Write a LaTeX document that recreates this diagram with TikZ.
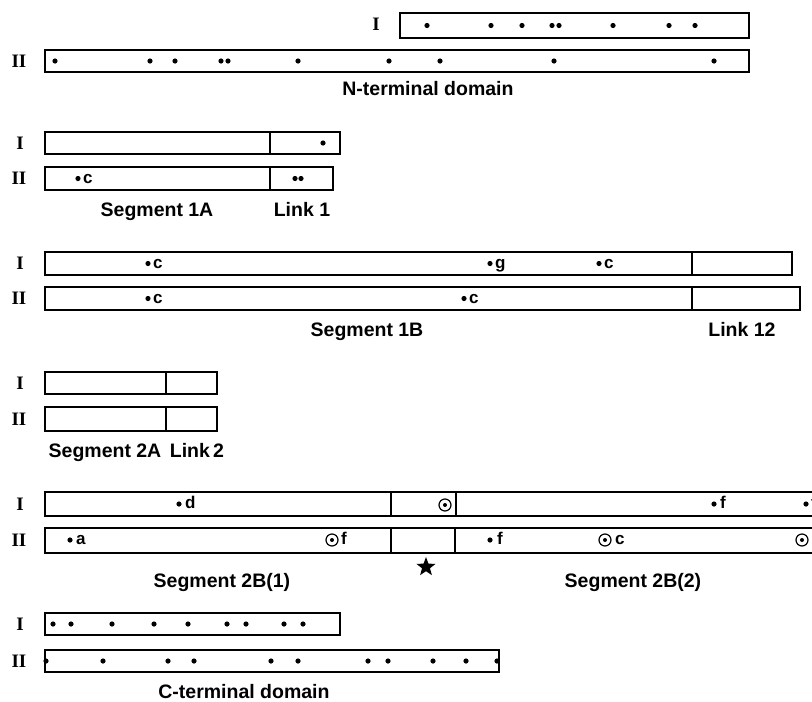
\documentclass[tikz,border=0pt]{standalone}
\usepackage{fontspec}
\setmainfont{Liberation Serif}
\newfontfamily\labf{Liberation Sans}
\usetikzlibrary{shapes.geometric}
\begin{document}
\begin{tikzpicture}[x=1pt,y=-1pt,
  bar/.style={draw, line width=1.6pt},
  divl/.style={line width=1.3pt},
  rn/.style={font=\bfseries\fontsize{19}{19}\selectfont, inner sep=0},
  captxt/.style={font=\labf\bfseries\fontsize{19.5}{19.5}\selectfont, inner sep=0, anchor=base},
  lt/.style={font=\labf\bfseries\fontsize{17}{17}\selectfont, inner sep=0, anchor=base west},
  odot/.style={draw, circle, line width=1.2pt, minimum size=12pt, inner sep=0}]
\useasboundingbox (0,0) rectangle (812,702);
\clip (0,0) rectangle (812,702);
\newcommand\mydot[2]{\fill (#1,#2) circle (2.6);}
\newcommand\mycirc[3]{\node[odot] (#3) at (#1,#2) {}; \fill (#1,#2) circle (2);}

% ---------- Row 1: N-terminal domain
\draw[bar] (400,13) rectangle (749,38);
\draw[bar] (45,50) rectangle (749,72);
\node[rn] (r1a) at (376,24) {I};
\node[rn] (r1b) at (19,61) {II};
\foreach \x in {427,491,522,552,559,613,669,695} \mydot{\x}{25.5};
\foreach \x in {55,150,175,221,228,298,389,440,554,714} \mydot{\x}{61};
\node[captxt] (nterm) at (428,95) {N-terminal domain};

% ---------- Row 2: Segment 1A / Link 1
\draw[bar] (45,132) rectangle (340,154);
\draw[divl] (270,132) -- (270,154);
\draw[bar] (45,167) rectangle (333,190);
\draw[divl] (270,167) -- (270,190);
\node[rn] (r2a) at (20,143) {I};
\node[rn] (r2b) at (19,178.5) {II};
\mydot{323}{143}
\mydot{78}{178.5} \node[lt] (c2a) at (83,183) {c};
\mydot{295}{178.5} \mydot{301}{178.5}
\node[captxt] (seg1a) at (157,216) {Segment 1A};
\node[captxt] (link1) at (302,216) {Link 1};

% ---------- Row 3: Segment 1B / Link 12
\draw[bar] (45,252) rectangle (792,275);
\draw[divl] (692,252) -- (692,275);
\draw[bar] (45,287) rectangle (800,310);
\draw[divl] (692,287) -- (692,310);
\node[rn] (r3a) at (20,263.5) {I};
\node[rn] (r3b) at (19,298.5) {II};
\mydot{148}{263.5} \node[lt] (c3a) at (153,268) {c};
\mydot{490}{263.5} \node[lt] (g3a) at (495,268) {g};
\mydot{599}{263.5} \node[lt] (c3b) at (604,268) {c};
\mydot{148}{298.5} \node[lt] (c3c) at (153,303) {c};
\mydot{464}{298.5} \node[lt] (c3d) at (469,303) {c};
\node[captxt] (seg1b) at (367,336) {Segment 1B};
\node[captxt] (link12) at (742,336) {Link 12};

% ---------- Row 4: Segment 2A / Link 2
\draw[bar] (45,372) rectangle (217,394);
\draw[divl] (166,372) -- (166,394);
\draw[bar] (45,407) rectangle (217,431);
\draw[divl] (166,407) -- (166,431);
\node[rn] (r4a) at (20,383) {I};
\node[rn] (r4b) at (19,419) {II};
\node[captxt] (seg2a) at (105,457) {Segment 2A};
\node[captxt] (link2) at (197,457) {Link\,2};

% ---------- Row 5: Segment 2B(1) / star / Segment 2B(2)
\draw[bar] (45,492) rectangle (830,516);
\draw[divl] (391,492) -- (391,516);
\draw[divl] (456,492) -- (456,516);
\draw[bar] (45,528) rectangle (830,553);
\draw[divl] (391,528) -- (391,553);
\draw[divl] (455,528) -- (455,553);
\node[rn] (r5a) at (20,504) {I};
\node[rn] (r5b) at (19,540) {II};
\mydot{179}{504} \node[lt] (d5a) at (185,508.5) {d};
\mycirc{445}{505}{o5a}
\mydot{714}{504} \node[lt] (f5a) at (720,508.5) {f};
\mydot{806}{504} \node[lt] (f5b) at (811,508.5) {f};
\mydot{70}{540} \node[lt] (a5a) at (76,544.5) {a};
\mycirc{332}{540}{o5b} \node[lt] (f5c) at (341,544.5) {f};
\mydot{490}{540} \node[lt] (f5d) at (497,544.5) {f};
\mycirc{605}{540}{o5c} \node[lt] (c5a) at (615,544.5) {c};
\mycirc{802}{540}{o5d}
\node[star, star points=5, star point ratio=2.4, fill=black, inner sep=0, minimum size=20pt] (star) at (426,567) {};
\node[captxt] (seg2b1) at (222,587) {Segment 2B(1)};
\node[captxt] (seg2b2) at (633,587) {Segment 2B(2)};

% ---------- Row 6: C-terminal domain
\draw[bar] (45,613) rectangle (340,635);
\draw[bar] (45,650) rectangle (499,672);
\node[rn] (r6a) at (20,624) {I};
\node[rn] (r6b) at (19,661) {II};
\foreach \x in {53,71,112,154,188,227,246,284,303} \mydot{\x}{624};
\foreach \x in {46,103,168,194,271,298,368,388,433,466,497} \mydot{\x}{661};
\node[captxt] (cterm) at (244,698) {C-terminal domain};
\end{tikzpicture}
\end{document}
